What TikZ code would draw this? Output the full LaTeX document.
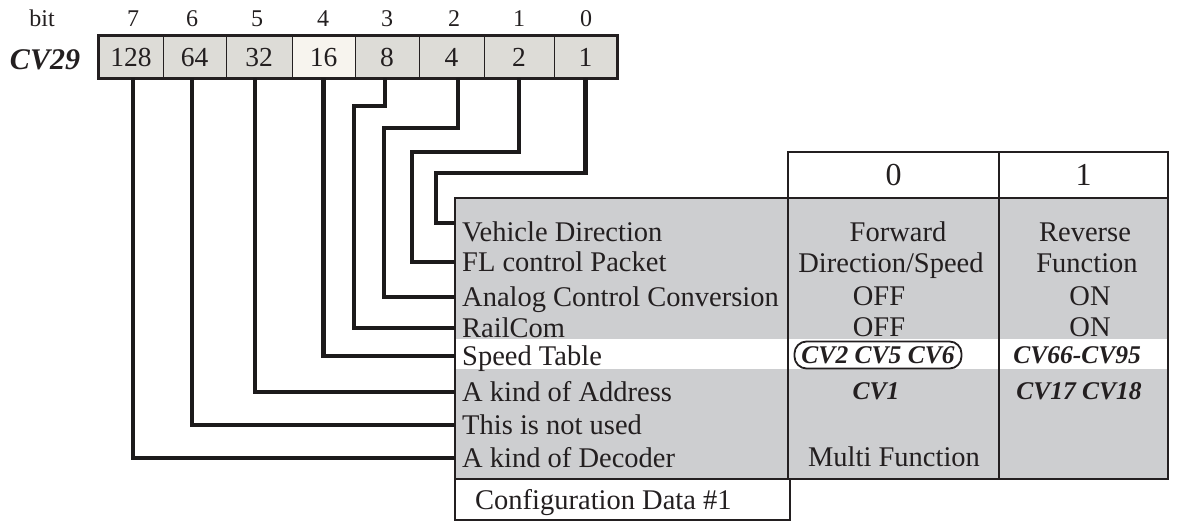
\documentclass[tikz,border=0pt]{standalone}
\usepackage{fontspec}
\setmainfont{Liberation Serif}
\definecolor{ink}{HTML}{231F20}
\definecolor{wireink}{HTML}{1C1A1B}
\definecolor{tablegray}{RGB}{205,206,208}
\definecolor{cellgray}{RGB}{221,220,215}
\definecolor{cellcream}{RGB}{247,244,238}
\tikzset{
  cell/.style={draw=ink, line width=0.9pt, fill=cellgray, minimum height=42pt,
    inner sep=0pt, text height=18.5pt, text depth=0pt, text=ink,
    font=\fontsize{27.5}{29}\selectfont},
  bitnum/.style={inner sep=0pt, text height=16pt, text depth=0pt, text=ink,
    font=\fontsize{24}{26}\selectfont},
  lbl/.style={anchor=west, inner xsep=7pt, inner ysep=0pt, text height=19pt,
    text depth=0pt, text=ink, font=\fontsize{28.5}{31}\selectfont},
  val/.style={inner sep=0pt, text height=19pt, text depth=0pt, text=ink,
    font=\fontsize{28.5}{31}\selectfont},
  cvval/.style={val, text height=17pt, font=\fontsize{25.5}{28}\selectfont\bfseries\itshape},
  head/.style={inner sep=0pt, text height=21.5pt, text depth=0pt, text=ink,
    font=\fontsize{32}{34}\selectfont},
  frame/.style={draw=ink, line width=2.2pt},
  wire/.style={draw=wireink, line width=4.5pt},
}
\begin{document}
\begin{tikzpicture}[x=1pt, y=-1pt]
\useasboundingbox (0,0) rectangle (1177,522);

% bit register CV29
\node[bitnum] (bitlbl) at (42,18) {bit};
\node[inner sep=0pt, text height=20pt, text depth=0pt, text=ink,
  font=\fontsize{30}{32}\selectfont\bfseries\itshape] (cvname) at (45,59) {CV29};

\node[cell, minimum width=64pt] (c7) at (131,57) {128};
\node[cell, minimum width=63pt] (c6) at (194.5,57) {64};
\node[cell, minimum width=66pt] (c5) at (259,57) {32};
\node[cell, minimum width=63pt, fill=cellcream] (c4) at (323.5,57) {16};
\node[cell, minimum width=64pt] (c3) at (387,57) {8};
\node[cell, minimum width=65pt] (c2) at (451.5,57) {4};
\node[cell, minimum width=70pt] (c1) at (519,57) {2};
\node[cell, minimum width=63pt] (c0) at (585.5,57) {1};
\draw[frame, line width=2.5pt] (c7.north west) rectangle (c0.south east);

\foreach \b/\x in {7/133,6/192,5/257,4/323,3/387,2/454,1/519,0/586}
  \node[bitnum] (b\b) at (\x,18) {\b};

% configuration table
\fill[tablegray] (455,198) rectangle (1168,479);
\fill[white] (455,339) rectangle (1168,369);
\draw[frame] (455,198) rectangle (1168,479);
\draw[frame] (788,198) -- (788,479);
\draw[frame] (999,198) -- (999,479);
\draw[frame, line width=2.5pt] (788,152) rectangle (1168,198);
\draw[frame] (999,152) -- (999,198);
\draw[frame] (455,479) rectangle (790,520);

\node[head] (h0) at (893.5,175) {0};
\node[head] (h1) at (1083.5,175) {1};

\node[lbl] (r0) at (455,232) {Vehicle Direction};
\node[lbl] (r1) at (455,262) {FL control Packet};
\node[lbl] (r2) at (455,297) {Analog Control Conversion};
\node[lbl] (r3) at (455,328) {RailCom};
\node[lbl] (r4) at (455,356) {Speed Table};
\node[lbl] (r5) at (455,392) {A kind of Address};
\node[lbl] (r6) at (455,425) {This is not used};
\node[lbl] (r7) at (455,458) {A kind of Decoder};

\node[val] (p0) at (898,232) {Forward};
\node[val] (p1) at (891,263) {Direction/Speed};
\node[val] (p2) at (879,296) {OFF};
\node[val] (p3) at (879,327) {OFF};
\node[cvval, draw=ink, line width=1.8pt, rounded corners=12pt,
  minimum width=167pt, minimum height=27pt] (p4) at (878,355) {CV2 CV5 CV6};
\node[cvval] (p5) at (876,391) {CV1};
\node[val] (p7) at (894,457) {Multi Function};

\node[val] (q0) at (1085,232) {Reverse};
\node[val] (q1) at (1087,263) {Function};
\node[val] (q2) at (1090,296) {ON};
\node[val] (q3) at (1090,327) {ON};
\node[cvval] (q4) at (1077,355) {CV66-CV95};
\node[cvval] (q5) at (1079,391) {CV17 CV18};

\node[lbl, inner xsep=0pt] (cfg) at (475,500) {Configuration Data \#1};

% bit connectors
\draw[wire] (c0.south) |- (436,173) |- ([yshift=9pt]r0.west);
\draw[wire] (c1.south) |- (412,152) |- (r1.west);
\draw[wire] ([xshift=6.5pt]c2.south) |- (384,128) |- (r2.west);
\draw[wire] ([xshift=-2pt]c3.south) |- (354,106) |- (r3.west);
\draw[wire] (c4.south) |- (r4.west);
\draw[wire] ([xshift=-4pt]c5.south) |- (r5.west);
\draw[wire] ([xshift=-2.5pt]c6.south) |- (r6.west);
\draw[wire] ([xshift=2pt]c7.south) |- (r7.west);
\end{tikzpicture}
\end{document}
